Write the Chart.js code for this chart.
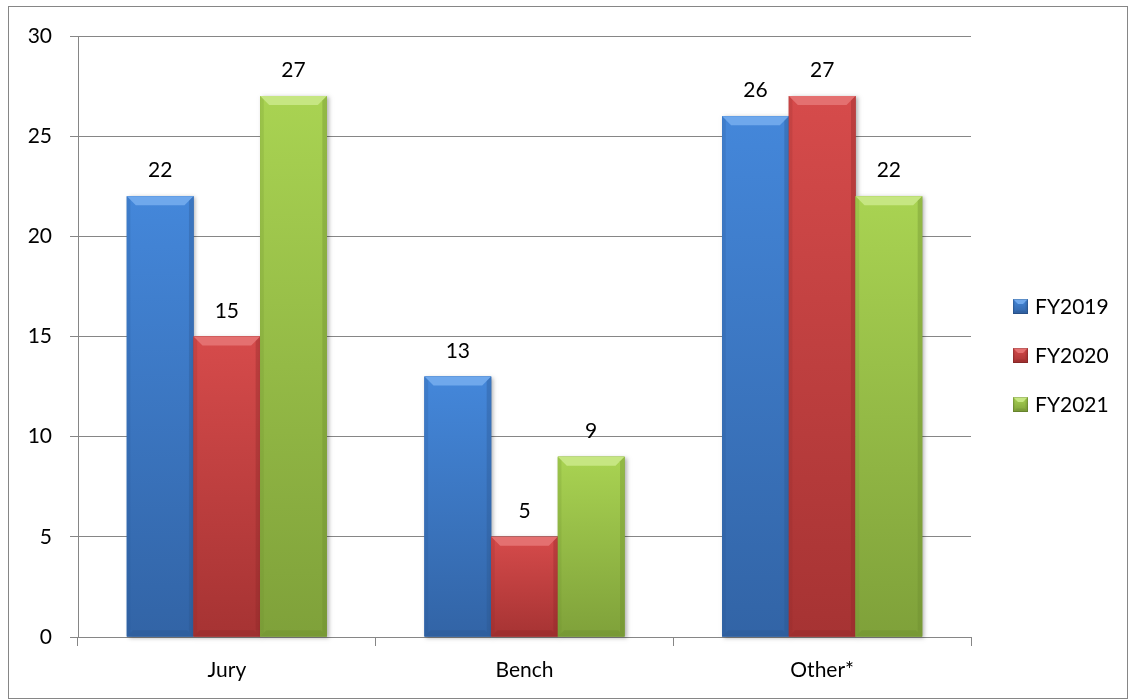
<!DOCTYPE html>
<html>
<head>
<meta charset="utf-8">
<script src="https://cdn.jsdelivr.net/npm/chart.js@4.4.1/dist/chart.umd.min.js"></script>
<style>
  body { margin: 0; background: #fff; }
  #wrap { width: 1132px; height: 700px; position: relative; }
</style>
</head>
<body>
<div id="wrap"><canvas id="grafico" width="1132" height="700"></canvas></div>
<script>
const categorias = ["Jury", "Bench", "Other*"];
const series = ["FY2019", "FY2020", "FY2021"];
const fy2019 = [22, 13, 26];
const fy2020 = [15, 5, 27];
const fy2021 = [27, 9, 22];
const ticksY = [0, 5, 10, 15, 20, 25, 30];

// light top, body top, body bottom, dark edge
const cores = [
  ["#6fa8ec", "#4487da", "#3264a6", "#2a5590"],
  ["#e47070", "#d64b4b", "#a63333", "#8e2828"],
  ["#c6e682", "#a9d352", "#7fa13a", "#6a8a2e"],
];

const FONTE = "21px Lato, 'Open Sans', sans-serif";
const CINZA = "#868686";

function bevel(ctx, x0, x1, top, bottom, c, b) {
  const g = ctx.createLinearGradient(0, top, 0, bottom);
  g.addColorStop(0, c[1]);
  g.addColorStop(1, c[2]);
  ctx.fillStyle = g;
  ctx.fillRect(x0, top, x1 - x0, bottom - top);
  const bb = Math.min(b, (bottom - top) / 2, (x1 - x0) / 2);
  // top bevel
  ctx.fillStyle = c[0];
  ctx.beginPath();
  ctx.moveTo(x0, top);
  ctx.lineTo(x1, top);
  ctx.lineTo(x1 - bb, top + bb);
  ctx.lineTo(x0 + bb, top + bb);
  ctx.closePath();
  ctx.fill();
  // sides
  ctx.globalAlpha = 0.35;
  ctx.fillStyle = c[3];
  ctx.beginPath();
  ctx.moveTo(x1, top);
  ctx.lineTo(x1, bottom);
  ctx.lineTo(x1 - bb * 0.5, bottom - bb * 0.5);
  ctx.lineTo(x1 - bb * 0.5, top + bb * 0.5);
  ctx.closePath();
  ctx.fill();
  ctx.globalAlpha = 0.2;
  ctx.beginPath();
  ctx.moveTo(x0, top);
  ctx.lineTo(x0, bottom);
  ctx.lineTo(x0 + bb * 0.4, bottom - bb * 0.4);
  ctx.lineTo(x0 + bb * 0.4, top + bb * 0.4);
  ctx.closePath();
  ctx.fill();
  // bottom
  ctx.globalAlpha = 0.35;
  ctx.beginPath();
  ctx.moveTo(x0, bottom);
  ctx.lineTo(x1, bottom);
  ctx.lineTo(x1 - bb * 0.7, bottom - bb * 0.7);
  ctx.lineTo(x0 + bb * 0.7, bottom - bb * 0.7);
  ctx.closePath();
  ctx.fill();
  ctx.globalAlpha = 1;
}

const pluginBarras = {
  id: "barras",
  afterDatasetsDraw(chart) {
    const ctx = chart.ctx;
    ctx.save();
    chart.data.datasets.forEach((ds, i) => {
      const meta = chart.getDatasetMeta(i);
      meta.data.forEach((bar) => {
        const p = bar.getProps(["x", "y", "base", "width"], true);
        const x0 = p.x - p.width / 2, x1 = p.x + p.width / 2;
        ctx.shadowColor = "rgba(0,0,0,0.3)";
        ctx.shadowBlur = 4;
        ctx.shadowOffsetX = 2;
        ctx.shadowOffsetY = 1;
        ctx.fillStyle = cores[i][2];
        ctx.fillRect(x0, p.y, x1 - x0, p.base - p.y);
        ctx.shadowColor = "transparent";
        bevel(ctx, x0, x1, p.y, p.base, cores[i], 9);
      });
    });
    // rotulos de valor
    ctx.font = FONTE;
    ctx.fillStyle = "#000";
    ctx.textAlign = "center";
    ctx.textBaseline = "alphabetic";
    chart.data.datasets.forEach((ds, i) => {
      chart.getDatasetMeta(i).data.forEach((bar, j) => {
        ctx.fillText(String(ds.data[j]), bar.x, bar.y - 19);
      });
    });
    ctx.restore();
  },
  afterDraw(chart) {
    const ctx = chart.ctx;
    ctx.save();
    // legenda
    chart.data.datasets.forEach((ds, i) => {
      const y = 299 + i * 49;
      const x = 1013;
      bevel(ctx, x, x + 15, y, y + 15, cores[i], 5);
      ctx.strokeStyle = "rgba(0,0,0,0.15)";
      ctx.lineWidth = 1;
      ctx.strokeRect(x + 0.5, y + 0.5, 14, 14);
      ctx.font = FONTE;
      ctx.fillStyle = "#000";
      ctx.textAlign = "left";
      ctx.textBaseline = "alphabetic";
      ctx.fillText(ds.label, x + 22, y + 15);
    });
    // borda externa
    ctx.strokeStyle = CINZA;
    ctx.lineWidth = 1;
    ctx.strokeRect(8.5, 6.5, 1119, 692);
    ctx.restore();
  },
};

function plotarGrafico(idGrafico) {
  const ctx = document.getElementById(idGrafico).getContext("2d");
  let myChart = new Chart(ctx, {
    type: "bar",
    data: {
      labels: categorias,
      datasets: [
        { label: series[0], data: fy2019, backgroundColor: cores[0][1] },
        { label: series[1], data: fy2020, backgroundColor: cores[1][1] },
        { label: series[2], data: fy2021, backgroundColor: cores[2][1] },
      ],
    },
    options: {
      responsive: false,
      animation: false,
      layout: { padding: { left: 0, top: 36, right: 161, bottom: 0 } },
      datasets: { bar: { categoryPercentage: 0.672, barPercentage: 1 } },
      plugins: { legend: { display: false }, tooltip: { enabled: false } },
      scales: {
        x: {
          grid: { display: true, drawOnChartArea: false, drawTicks: true, tickLength: 9, color: CINZA, offset: true },
          border: { color: CINZA },
          ticks: { font: { family: "Lato", size: 21 }, color: "#000", padding: 12 },
          afterFit(scale) { scale.height = 63; },
        },
        y: {
          min: 0,
          max: 30,
          afterBuildTicks(scale) { scale.ticks = ticksY.map((v) => ({ value: v })); },
          grid: { color: CINZA, tickLength: 8, drawTicks: true },
          border: { color: CINZA },
          ticks: { font: { family: "Lato", size: 21 }, color: "#000", padding: 18 },
          afterFit(scale) { scale.width = 78; },
        },
      },
    },
    plugins: [pluginBarras],
  });
  return myChart;
}

plotarGrafico("grafico");
</script>
</body>
</html>
